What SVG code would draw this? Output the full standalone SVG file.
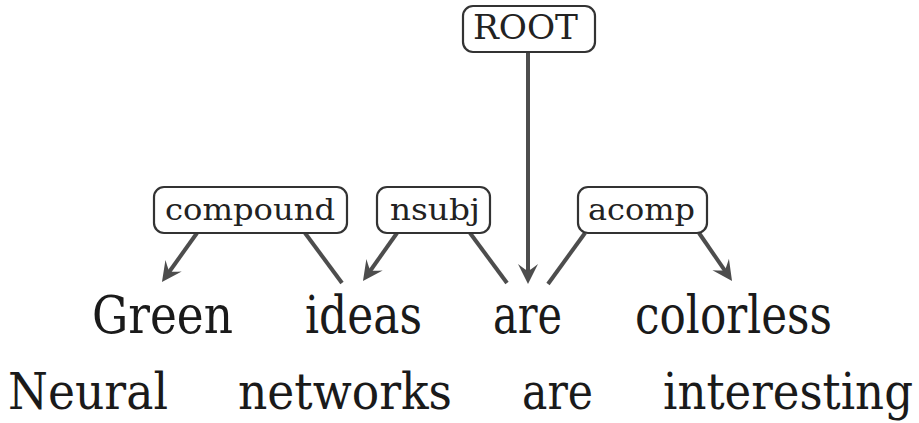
<svg xmlns="http://www.w3.org/2000/svg" width="919" height="423" viewBox="0 0 919 423">
<style>
.edge{stroke:#4d4d4d;stroke-width:4;fill:none;stroke-linecap:butt}
.box{fill:#fff;stroke:#333;stroke-width:2.2}
.lbl{fill:#222}
.word{font-size:52px;fill:#1a1a1a}
.row2{font-size:50px}
</style>
<defs>
<marker id="arr" markerUnits="userSpaceOnUse" markerWidth="30" markerHeight="30" viewBox="-24 -12 30 24" refX="-8" refY="0" orient="auto">
<path d="M0,0 L-20,-10 Q-13,-1 -13,0 Q-13,1 -20,10 Z" fill="#4d4d4d"/>
</marker>
</defs>
<rect width="919" height="423" fill="#fff"/>
<g id="connectors">
<line class="edge" x1="528" y1="52" x2="528" y2="276" marker-end="url(#arr)"/>
<line class="edge" x1="197" y1="233" x2="166.6" y2="275.5" marker-end="url(#arr)"/>
<line class="edge" x1="305" y1="233" x2="342" y2="283"/>
<line class="edge" x1="397" y1="233" x2="367.6" y2="274.5" marker-end="url(#arr)"/>
<line class="edge" x1="470" y1="233" x2="507" y2="283"/>
<line class="edge" x1="585" y1="233" x2="548" y2="284"/>
<line class="edge" x1="699" y1="233" x2="727.5" y2="274.4" marker-end="url(#arr)"/>
</g>
<g font-family="DejaVu Serif, Liberation Serif, serif">
<g id="root">
<rect class="box" x="463" y="6" width="132" height="46" rx="10"/>
<text class="lbl" x="473" y="39" font-size="33" textLength="105" lengthAdjust="spacingAndGlyphs">ROOT</text>
</g>
<g id="compound">
<rect class="box" x="154" y="187" width="193" height="46" rx="10"/>
<text class="lbl" x="165" y="220" font-size="30" textLength="170" lengthAdjust="spacingAndGlyphs">compound</text>
</g>
<g id="nsubj">
<rect class="box" x="377" y="187" width="113" height="46" rx="10"/>
<text class="lbl" x="390" y="220" font-size="30" textLength="90" lengthAdjust="spacingAndGlyphs">nsubj</text>
</g>
<g id="acomp">
<rect class="box" x="578" y="187" width="129" height="46" rx="10"/>
<text class="lbl" x="588" y="220" font-size="30" textLength="107" lengthAdjust="spacingAndGlyphs">acomp</text>
</g>
<g id="row1">
<text class="word" x="92" y="333" textLength="141" lengthAdjust="spacingAndGlyphs">Green</text>
<text class="word" x="305" y="333" textLength="117" lengthAdjust="spacingAndGlyphs">ideas</text>
<text class="word" x="493" y="333" textLength="69" lengthAdjust="spacingAndGlyphs">are</text>
<text class="word" x="635" y="333" textLength="197" lengthAdjust="spacingAndGlyphs">colorless</text>
</g>
<g id="row2">
<text class="word row2" x="8" y="409" textLength="160" lengthAdjust="spacingAndGlyphs">Neural</text>
<text class="word row2" x="238" y="409" textLength="214" lengthAdjust="spacingAndGlyphs">networks</text>
<text class="word row2" x="522" y="409" textLength="71" lengthAdjust="spacingAndGlyphs">are</text>
<text class="word row2" x="663" y="409" font-size="45" textLength="250" lengthAdjust="spacingAndGlyphs">interesting</text>
</g>
</g>
</svg>
